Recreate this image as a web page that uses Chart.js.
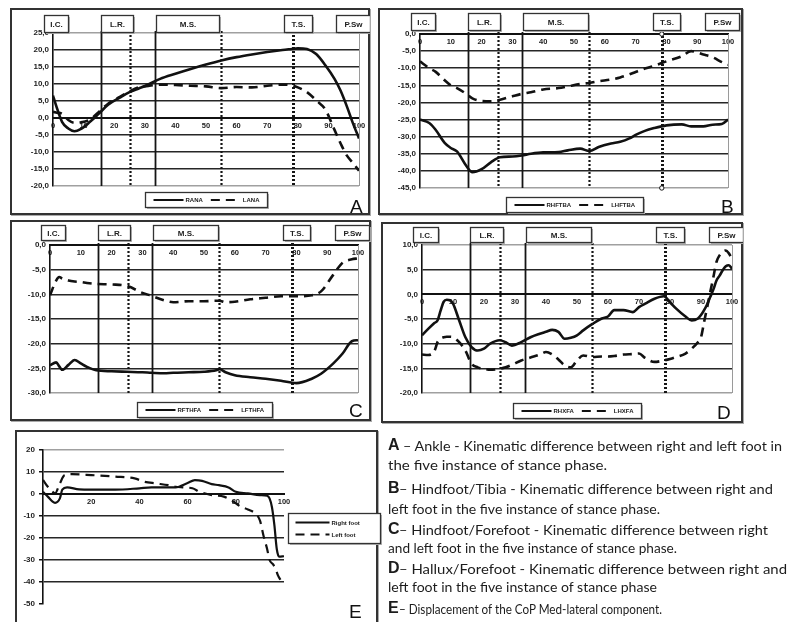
<!DOCTYPE html>
<html>
<head>
<meta charset="utf-8">
<script src="https://cdn.jsdelivr.net/npm/chart.js@4.4.1/dist/chart.umd.min.js"></script>
<style>
  body { margin: 0; width: 790px; height: 622px; background: #fff; position: relative; overflow: hidden; }
  .frame { position: absolute; border: 2px solid #333; box-sizing: border-box; box-shadow: 1px 1px 0 #aaa; }
  canvas { position: absolute; }
  .tag { position: absolute; font: 19px "Liberation Sans", Arial, sans-serif; line-height: 19px; color: #111; }
  .cap { position: absolute; white-space: nowrap; transform-origin: 0 0; color: #1c1c1c;
         font: 14px Lato, "Open Sans", sans-serif; line-height: 14px; }
  .big { font: bold 16px "Liberation Sans", Arial, sans-serif; line-height: 16px; }
</style>
</head>
<body>
<div id="stage"></div>

<div class="tag" style="left:350px;top:197px">A</div>
<div class="tag" style="left:721px;top:197px">B</div>
<div class="tag" style="left:349px;top:401px">C</div>
<div class="tag" style="left:717px;top:403px">D</div>
<div class="tag" style="left:349px;top:602px">E</div>

<div class="cap big" style="left:388px;top:437px">A</div>
<div class="cap" data-w="379" style="left:403px;top:439px">– Ankle - Kinematic difference between right and left foot in</div>
<div class="cap" data-w="219" style="left:388px;top:458px">the five instance of stance phase.</div>
<div class="cap big" style="left:388px;top:480px">B</div>
<div class="cap" data-w="374" style="left:399px;top:482px">– Hindfoot/Tibia - Kinematic difference between right and</div>
<div class="cap" data-w="272" style="left:388px;top:502px">left foot in the five instance of stance phase.</div>
<div class="cap big" style="left:388px;top:521px">C</div>
<div class="cap" data-w="369" style="left:399px;top:523px">– Hindfoot/Forefoot - Kinematic difference between right</div>
<div class="cap" data-w="289" style="left:388px;top:541px">and left foot in the five instance of stance phase.</div>
<div class="cap big" style="left:388px;top:560px">D</div>
<div class="cap" data-w="388" style="left:399px;top:562px">– Hallux/Forefoot - Kinematic difference between right and</div>
<div class="cap" data-w="269" style="left:388px;top:580px">left foot in the five instance of stance phase</div>
<div class="cap big" style="left:388px;top:600px">E</div>
<div class="cap" data-w="263" style="left:399px;top:602px">– Displacement of the CoP Med-lateral component.</div>

<script>
// stance phase markers (x in % of stance)
const phaseAt = [15.6, 25.3, 33.2, 54.8, 78.5];
const phaseDotted = [false, true, false, true, true];
const phaseNames = ['I.C.', 'L.R.', 'M.S.', 'T.S.', 'P.Sw'];
const phaseFrom = [-3, 15.6, 33.6, 75.5, 92.5];
const phaseTo = [5, 26, 54.4, 84.5, 103.5];

// A - ankle
const aX = [0, 1, 3, 5, 7, 9, 12, 15, 18, 22, 25, 28, 30, 35, 40, 45, 50, 55, 60, 65, 70, 75, 78, 80, 83, 86, 89, 92, 94, 96, 98, 100];
const aRight = [6.6, 3.7, -1.2, -3.1, -3.9, -3.3, -1.2, 1.3, 3.9, 6.1, 7.6, 8.7, 9.4, 11.5, 13, 14.4, 15.7, 16.9, 17.9, 18.7, 19.4, 20, 20.3, 20.5, 20.3, 18.8, 15.5, 11.5, 8, 3.5, -1.5, -6];
const aLeft = [1.8, 1.6, 1.2, -0.6, -1.4, -1.3, -0.5, 1.8, 4.2, 6.3, 7.8, 9, 9.3, 9.8, 9.7, 9.5, 9.3, 8.8, 9.1, 9, 9.5, 9.8, 9.6, 9, 7.6, 5.2, 2.5, -3.5, -7.5, -11, -13.2, -15.5];

// B - hindfoot / tibia
const bX = [0, 3, 5, 8, 10, 12, 15, 17, 20, 23, 26, 30, 33, 36, 40, 45, 48, 52, 55, 58, 62, 65, 68, 70, 73, 76, 80, 85, 88, 92, 95, 98, 100];
const bRight = [-25, -26, -27.9, -31.8, -33.3, -34.3, -38.5, -40.4, -39.5, -37.5, -36, -35.8, -35.5, -35, -34.6, -34.5, -34, -33.5, -34.2, -33, -32, -31.5, -30.5, -29.5, -28.3, -27.5, -26.7, -26.4, -27, -27, -26.5, -26.3, -25];
const bLeft = [-8, -10, -11, -13.5, -15, -15.8, -17.5, -18.8, -19.6, -19.7, -19.2, -18.2, -17.5, -17, -16.2, -15.8, -15.3, -14.6, -14.3, -13.8, -13.3, -12.7, -11.8, -11.1, -10.1, -9.3, -8, -6.5, -5, -6, -6.8, -8.2, -9];

// C - hindfoot / forefoot
const cX = [0, 2, 3, 4, 6, 8, 10, 12, 15, 20, 25, 30, 33, 37, 40, 45, 50, 54, 55, 57, 60, 65, 70, 75, 80, 85, 88, 92, 95, 98, 100];
const cRight = [-24.4, -23.8, -24.6, -25.3, -24.3, -23.3, -24, -24.7, -25.4, -25.6, -25.7, -25.8, -25.9, -26, -25.9, -25.8, -25.7, -25.4, -25.2, -25.8, -26.4, -26.8, -27.1, -27.5, -28, -27.1, -26.1, -24, -22, -19.5, -19.3];
const cLeft = [-10.2, -7.2, -6.5, -6.8, -7.2, -7.4, -7.5, -7.7, -7.9, -8, -8.3, -9.7, -10.3, -11.2, -11.6, -11.4, -11.4, -11.3, -11.3, -11.6, -11.5, -11, -10.7, -10.4, -10.4, -10.2, -9.4, -6, -3.6, -2.9, -2.7];

// D - hallux / forefoot
const dX = [0, 2, 4, 5, 6, 7, 8, 9, 10, 12, 14, 16, 18, 20, 22, 25, 27, 29, 32, 35, 38, 40, 42, 44, 46, 48, 50, 52, 55, 58, 60, 62, 65, 68, 70, 72, 75, 78, 80, 82, 85, 87, 89, 90, 91, 92, 93, 94, 95, 96, 97, 98, 99, 100];
const dRight = [-8.3, -7, -5.8, -5.3, -3.3, -1.5, -1.1, -1.2, -1.9, -5.3, -8.7, -10.7, -11.4, -11, -10, -9.3, -9.7, -10.4, -9.7, -8.7, -8, -7.6, -7.2, -7.6, -9, -8.8, -8.3, -7.3, -6, -4.9, -4.5, -3.2, -3.2, -3.6, -2.6, -1.9, -0.9, -0.4, -1.6, -2.9, -4.5, -5.3, -4.9, -4.2, -3.2, -2, -0.5, 1, 2.8, 3.8, 4.9, 5.7, 5.9, 5.2];
const dLeft = [-12.2, -12.3, -11.5, -9.7, -9, -8.7, -8.6, -8.6, -8.7, -9.7, -11.4, -14.1, -14.8, -15.1, -15.3, -15.1, -14.8, -14.3, -13.4, -12.8, -12.2, -11.7, -12.2, -13.2, -14.4, -14.8, -13.4, -12.4, -12.7, -12.6, -12.6, -12.5, -12.2, -12.1, -12, -12.9, -13.7, -13.4, -13.1, -12.7, -12, -11, -9.7, -8.7, -5.6, -2.6, 0.5, 3.5, 6.6, 7.9, 8.6, 8.9, 8.3, 7.2];

// E - CoP medio-lateral displacement
const eRightX = [0, 2, 4, 5, 7, 8, 10, 15, 20, 30, 40, 45, 50, 55, 60, 63, 66, 70, 73, 77, 80, 85, 90, 93, 94, 95, 96, 97, 98, 100];
const eRight = [1, -1.2, -3.5, -4, -2, 2, 3, 2.1, 2, 2, 2.6, 3, 3, 3, 5, 6.3, 6, 4.5, 4, 3, 1, 0.3, -0.5, -0.8, -2, -6, -14, -25, -28.5, -28.3];
const eLeftX = [0, 2, 4, 5, 7, 9, 12, 20, 30, 38, 42, 47, 52, 55, 58, 62, 65, 70, 75, 78, 82, 85, 88, 90, 91.5, 93, 94, 95.5, 96.5, 97.5, 98.5];
const eLeft = [6.4, 3.3, 1, 0.3, 4.8, 8.6, 9, 8.6, 7.9, 7.1, 5.6, 4.8, 4, 3.3, 3, 2.6, 1, -0.5, -1.2, -2.7, -5.7, -7, -8.8, -12, -19, -25, -30, -32, -34, -37, -39];

const FONT = '"Liberation Sans", Arial, sans-serif';
Chart.defaults.font.family = FONT;
Chart.defaults.color = '#222';

const decor = {
  id: 'decor',
  beforeDatasetsDraw(chart, args, o) {
    const {ctx, chartArea: a, scales: {x}} = chart;
    ctx.save();
    if (o.rightEdge) {
      ctx.strokeStyle = '#9a9a9a';
      ctx.lineWidth = 1;
      ctx.beginPath();
      ctx.moveTo(Math.round(a.right) + 0.5, a.top);
      ctx.lineTo(Math.round(a.right) + 0.5, a.bottom);
      ctx.stroke();
    }
    if (o.phases) {
      phaseAt.forEach((v, i) => {
        const px = Math.round(x.getPixelForValue(v)) + 0.5;
        ctx.beginPath();
        ctx.setLineDash(phaseDotted[i] ? [2, 2] : []);
        ctx.lineWidth = phaseDotted[i] ? (i === 4 ? 3 : 2.2) : 1.8;
        ctx.strokeStyle = '#151515';
        ctx.moveTo(px, a.top - 2);
        ctx.lineTo(px, a.bottom);
        ctx.stroke();
      });
      if (o.marks) {
        const px = x.getPixelForValue(phaseAt[4]);
        ctx.setLineDash([]);
        ctx.lineWidth = 1;
        [a.top, a.bottom].forEach(py => {
          ctx.beginPath();
          ctx.arc(px, py, 2.2, 0, Math.PI * 2);
          ctx.fillStyle = '#fff';
          ctx.fill();
          ctx.stroke();
        });
      }
    }
    ctx.restore();
  },
  afterDraw(chart, args, o) {
    const {ctx, chartArea: a, scales: {x}} = chart;
    ctx.save();
    if (o.phases) {
      const top = Math.round(a.top - o.boxGap - o.boxH) + 0.5;
      ctx.font = 'bold 8px ' + FONT;
      ctx.textAlign = 'center';
      ctx.textBaseline = 'middle';
      phaseNames.forEach((name, i) => {
        const x1 = Math.round(x.getPixelForValue(phaseFrom[i])) + 0.5;
        const x2 = Math.round(x.getPixelForValue(phaseTo[i])) + 0.5;
        ctx.fillStyle = '#b5b5b5';
        ctx.fillRect(x1 + 1.5, top + 1.5, x2 - x1, o.boxH);
        ctx.fillStyle = '#fff';
        ctx.fillRect(x1, top, x2 - x1, o.boxH);
        ctx.strokeStyle = '#333';
        ctx.lineWidth = 1.3;
        ctx.strokeRect(x1, top, x2 - x1, o.boxH);
        ctx.fillStyle = '#222';
        ctx.fillText(name, (x1 + x2) / 2, top + o.boxH / 2 + 0.5);
      });
    }
    // legend
    const ds = chart.data.datasets;
    ctx.font = 'bold 6px ' + FONT;
    ctx.textAlign = 'left';
    ctx.textBaseline = 'middle';
    const sample = 30;
    const drawSample = (d, x0, y0, len) => {
      ctx.strokeStyle = '#111';
      ctx.lineWidth = 2;
      ctx.setLineDash(d.borderDash || []);
      ctx.beginPath();
      ctx.moveTo(x0, y0);
      ctx.lineTo(x0 + len, y0);
      ctx.stroke();
      ctx.setLineDash([]);
      ctx.fillStyle = '#222';
      ctx.fillText(d.label, x0 + len + 2, y0 + 0.5);
    };
    const frameBox = (lx, ly, w, h) => {
      ctx.fillStyle = '#b5b5b5';
      ctx.fillRect(lx + 1.5, ly + 1.5, w, h);
      ctx.fillStyle = '#fff';
      ctx.fillRect(lx, ly, w, h);
      ctx.strokeStyle = '#333';
      ctx.lineWidth = 1.3;
      ctx.strokeRect(lx, ly, w, h);
    };
    if (o.legend === 'row') {
      const w1 = ctx.measureText(ds[0].label).width;
      const w2 = ctx.measureText(ds[1].label).width;
      const W = Math.round(8 + sample + 2 + w1 + 8 + sample + 2 + w2 + 8);
      const H = 15;
      const lx = Math.round((a.left + a.right) / 2 - W / 2) + 0.5;
      const ly = Math.round(a.bottom + o.legendGap) + 0.5;
      frameBox(lx, ly, W, H);
      drawSample(ds[0], lx + 8, ly + H / 2, sample);
      drawSample(ds[1], lx + 8 + sample + 2 + w1 + 8, ly + H / 2, sample);
    } else if (o.legend === 'col') {
      const lx = Math.round(a.right + 4) + 0.5;
      const ly = Math.round(a.top + 63) + 0.5;
      frameBox(lx, ly, 92, 30);
      drawSample(ds[0], lx + 7, ly + 9, 34);
      drawSample(ds[1], lx + 7, ly + 21, 34);
    }
    ctx.restore();
  }
};

const stage = document.getElementById('stage');

function makePanel(cfg) {
  const f = cfg.frame;
  const fr = document.createElement('div');
  fr.className = 'frame';
  Object.assign(fr.style, {left: f.x + 'px', top: f.y + 'px', width: f.w + 'px', height: f.h + 'px'});
  stage.appendChild(fr);

  const cw = cfg.canvasW || f.w;
  const ch = cfg.canvasH || f.h;
  const cv = document.createElement('canvas');
  cv.width = cw;
  cv.height = ch;
  Object.assign(cv.style, {left: f.x + 'px', top: f.y + 'px', width: cw + 'px', height: ch + 'px'});
  stage.appendChild(cv);

  const a = cfg.area;
  const yw = cfg.yw;
  const ymin = cfg.y[0], ymax = cfg.y[1];

  return new Chart(cv, {
    type: 'line',
    data: {
      datasets: cfg.series.map(s => ({
        label: s.label,
        data: s.xs.map((x, i) => ({x: x, y: s.ys[i]})),
        borderColor: '#111',
        borderWidth: cfg.lineW || 2.6,
        borderDash: s.dash ? [9, 6] : [],
        pointRadius: 0,
        cubicInterpolationMode: 'monotone',
        fill: false
      }))
    },
    options: {
      responsive: false,
      animation: false,
      events: [],
      layout: {
        padding: {
          left: a.l - f.x - yw,
          top: a.t - f.y,
          right: f.x + cw - a.r,
          bottom: f.y + ch - a.b
        }
      },
      plugins: {
        legend: {display: false},
        tooltip: {enabled: false},
        decor: cfg.decor
      },
      scales: {
        x: {
          type: 'linear',
          min: 0,
          max: 100,
          position: {y: 0},
          grid: {display: false, drawTicks: false},
          border: {display: true, color: '#111', width: 2, dash: [2, 2]},
          ticks: {
            stepSize: cfg.xStep || 10,
            maxRotation: 0,
            autoSkip: false,
            padding: 3,
            color: '#222',
            font: {size: 7.5, weight: 'bold'},
            callback: v => (cfg.hideZero && v === 0) ? '' : String(v)
          }
        },
        y: {
          min: ymin,
          max: ymax,
          afterFit: s => { s.width = yw; },
          grid: {
            drawTicks: !!cfg.yTick,
            tickLength: 4,
            tickColor: '#111',
            lineWidth: 1.5,
            color: c => {
              const v = c.tick.value;
              if (v === 0) return 'rgba(0,0,0,0)';
              if (v === ymax) return '#a0a0a0';
              if (v === ymin) return cfg.noBottom ? 'rgba(0,0,0,0)' : '#a0a0a0';
              return '#262626';
            }
          },
          border: {display: true, color: '#111', width: 1.6},
          ticks: {
            stepSize: cfg.y[2],
            padding: 4,
            color: '#222',
            font: {size: 8, weight: 'bold'},
            callback: v => cfg.comma ? v.toFixed(1).replace('.', ',') : String(v)
          }
        }
      }
    },
    plugins: [decor]
  });
}

makePanel({
  frame: {x: 10, y: 8, w: 360, h: 207},
  area: {l: 53, r: 359, t: 33, b: 186},
  yw: 34, y: [-20, 25, 5], comma: true,
  series: [
    {label: 'RANA', xs: aX, ys: aRight},
    {label: 'LANA', xs: aX, ys: aLeft, dash: true}
  ],
  decor: {phases: true, rightEdge: true, boxGap: 1, boxH: 17, legend: 'row', legendGap: 6}
});

makePanel({
  frame: {x: 378, y: 8, w: 365, h: 207},
  area: {l: 420, r: 728, t: 34, b: 188},
  yw: 34, y: [-45, 0, 5], comma: true,
  series: [
    {label: 'RHFTBA', xs: bX, ys: bRight},
    {label: 'LHFTBA', xs: bX, ys: bLeft, dash: true}
  ],
  decor: {phases: true, rightEdge: true, marks: true, boxGap: 4, boxH: 17, legend: 'row', legendGap: 9}
});

makePanel({
  frame: {x: 10, y: 220, w: 361, h: 201},
  area: {l: 50, r: 358, t: 245, b: 393},
  yw: 34, y: [-30, 0, 5], comma: true,
  series: [
    {label: 'RFTHFA', xs: cX, ys: cRight},
    {label: 'LFTHFA', xs: cX, ys: cLeft, dash: true}
  ],
  decor: {phases: true, rightEdge: true, boxGap: 5, boxH: 15, legend: 'row', legendGap: 9}
});

makePanel({
  frame: {x: 381, y: 222, w: 362, h: 201},
  area: {l: 422, r: 732, t: 245, b: 393},
  yw: 34, y: [-20, 10, 5], comma: true,
  series: [
    {label: 'RHXFA', xs: dX, ys: dRight},
    {label: 'LHXFA', xs: dX, ys: dLeft, dash: true}
  ],
  decor: {phases: true, rightEdge: true, boxGap: 3, boxH: 15, legend: 'row', legendGap: 10}
});

makePanel({
  frame: {x: 15, y: 430, w: 363, h: 200},
  canvasW: 372, canvasH: 192,
  area: {l: 43, r: 284, t: 450, b: 604},
  yw: 24, y: [-50, 20, 10], yTick: true, noBottom: true,
  xStep: 20, hideZero: true, lineW: 2.2,
  series: [
    {label: 'Right foot', xs: eRightX, ys: eRight},
    {label: 'Left foot', xs: eLeftX, ys: eLeft, dash: true}
  ],
  decor: {phases: false, rightEdge: false, legend: 'col'}
});

// squeeze caption lines to the measured widths of the original
document.querySelectorAll('.cap[data-w]').forEach(el => {
  const w = el.getBoundingClientRect().width;
  if (w > 0) el.style.transform = 'scaleX(' + (el.dataset.w / w) + ')';
});
</script>
</body>
</html>
